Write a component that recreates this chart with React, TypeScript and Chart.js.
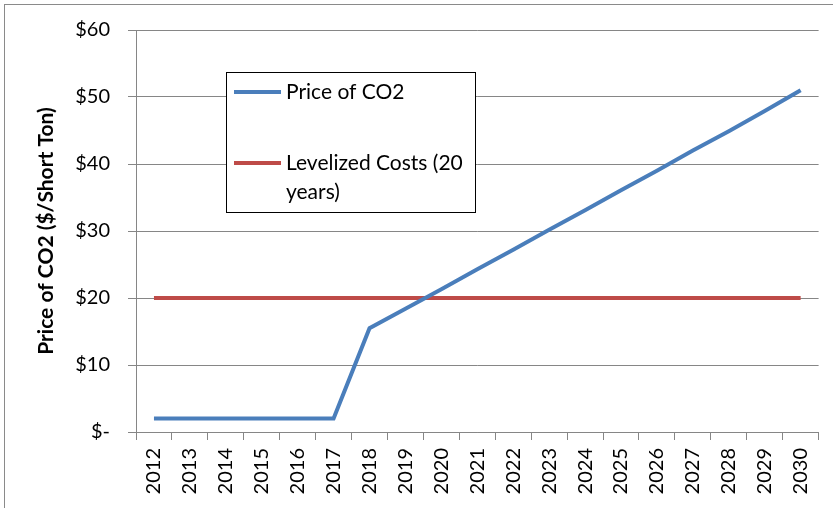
import React, { useEffect, useRef } from "react";
import { Chart, registerables } from "chart.js";

Chart.register(...registerables);

const years = [
  "2012", "2013", "2014", "2015", "2016", "2017", "2018", "2019", "2020", "2021",
  "2022", "2023", "2024", "2025", "2026", "2027", "2028", "2029", "2030",
];
const priceOfCO2 = [
  2, 2, 2, 2, 2, 2, 15.5, 18.4, 21.3, 24.3, 27.2, 30.2, 33.1, 36.1, 39.0, 42.0, 44.9, 47.9, 51.0,
];
const levelizedCosts = [
  20, 20, 20, 20, 20, 20, 20, 20, 20, 20, 20, 20, 20, 20, 20, 20, 20, 20, 20,
];
const yTickValues = [0, 10, 20, 30, 40, 50, 60];
const yTickLabels = ["$-", "$10", "$20", "$30", "$40", "$50", "$60"];
const seriesNames = ["Price of CO2", "Levelized Costs (20 years)"];
const legendLines = [["Price of CO2"], ["Levelized Costs (20", "years)"]];
const yAxisTitle = "Price of CO2 ($/Short Ton)";

const FONT = "Lato, 'Open Sans', sans-serif";
const BLUE = "#4A7EBB";
const RED = "#BE4B48";
const GRID = "#868686";

const frameAndLegend = {
  id: "frameAndLegend",
  beforeDraw(chart: any) {
    const ctx = chart.ctx;
    ctx.save();
    ctx.fillStyle = "#ffffff";
    ctx.fillRect(0, 0, chart.width, chart.height);
    ctx.strokeStyle = "#8a8a8a";
    ctx.lineWidth = 1;
    ctx.strokeRect(4.5, 4.5, chart.width + 20, chart.height + 20);
    ctx.restore();
  },
  afterDraw(chart: any) {
    const ctx = chart.ctx;
    const area = chart.chartArea;
    const bx = area.left + 90;
    const by = area.top + 42;
    const bw = 249;
    const bh = 140;
    ctx.save();
    ctx.fillStyle = "#ffffff";
    ctx.fillRect(bx, by, bw, bh);
    ctx.strokeStyle = "#000000";
    ctx.lineWidth = 1;
    ctx.strokeRect(bx + 0.5, by + 0.5, bw, bh);
    ctx.font = `21px ${FONT}`;
    ctx.textBaseline = "middle";
    ctx.fillStyle = "#000000";
    const rowY = [by + 20, by + 91];
    chart.data.datasets.forEach((ds: any, i: number) => {
      const y = rowY[i];
      ctx.strokeStyle = ds.borderColor;
      ctx.lineWidth = 4;
      ctx.beginPath();
      ctx.moveTo(bx + 8, y);
      ctx.lineTo(bx + 55, y);
      ctx.stroke();
      legendLines[i].forEach((line, j) => {
        ctx.fillText(line, bx + 60, y + j * 29);
      });
    });
    ctx.restore();
  },
};

export default function App() {
  const ref = useRef<HTMLCanvasElement | null>(null);
  useEffect(() => {
    if (!ref.current) return;
    const chart = new Chart(ref.current, {
      type: "line",
      data: {
        labels: years,
        datasets: [
          {
            label: seriesNames[0],
            data: priceOfCO2,
            borderColor: BLUE,
            backgroundColor: BLUE,
            borderWidth: 4,
            pointRadius: 0,
            tension: 0,
          },
          {
            label: seriesNames[1],
            data: levelizedCosts,
            borderColor: RED,
            backgroundColor: RED,
            borderWidth: 4,
            pointRadius: 0,
            tension: 0,
          },
        ],
      },
      options: {
        animation: false,
        responsive: false,
        maintainAspectRatio: false,
        layout: { padding: { top: 30, right: 14, left: 0, bottom: 0 } },
        plugins: { legend: { display: false }, tooltip: { enabled: false } },
        scales: {
          x: {
            offset: true,
            grid: {
              offset: true,
              drawOnChartArea: false,
              drawTicks: true,
              tickLength: 8,
              color: GRID,
            },
            border: { display: true, color: GRID },
            ticks: {
              autoSkip: false,
              minRotation: 90,
              maxRotation: 90,
              padding: 8,
              color: "#000000",
              font: { family: FONT, size: 20 },
            },
            afterFit(scale: any) {
              scale.height = 76;
            },
          },
          y: {
            min: 0,
            max: 60,
            afterBuildTicks(scale: any) {
              scale.ticks = yTickValues.map((v) => ({ value: v }));
            },
            grid: { color: GRID, tickLength: 8, drawTicks: true },
            border: { display: true, color: GRID },
            ticks: {
              padding: 18,
              color: "#000000",
              font: { family: FONT, size: 20 },
              callback: (v: any) => {
                const idx = yTickValues.indexOf(Number(v));
                return idx >= 0 ? yTickLabels[idx] : "";
              },
            },
            title: {
              display: true,
              text: yAxisTitle,
              color: "#000000",
              font: { family: FONT, size: 21, weight: "bold" },
              padding: { top: 34, bottom: 0 },
            },
            afterFit(scale: any) {
              scale.width = 136;
            },
          },
        },
      },
      plugins: [frameAndLegend],
    } as any);
    return () => chart.destroy();
  }, []);
  return (
    <div style={{ position: "fixed", left: 0, top: 0, width: 833, height: 508 }}>
      <canvas ref={ref} width={833} height={508} style={{ display: "block" }} />
    </div>
  );
}
